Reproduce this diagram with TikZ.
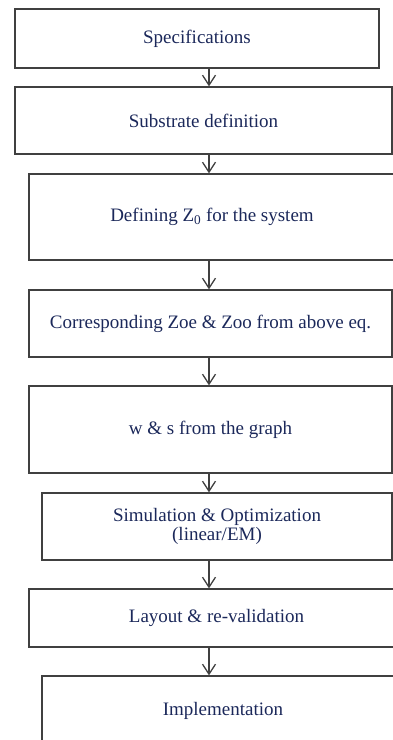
\documentclass[tikz,border=0pt]{standalone}
\usepackage{fontspec}
\setmainfont{Liberation Serif}
\usepackage{tikz}
\usetikzlibrary{arrows.meta}
\usetikzlibrary{calc,positioning}

\definecolor{encre}{RGB}{27,40,90}
\definecolor{trait}{RGB}{64,64,64}

\tikzset{
  etape/.style={draw=trait, line width=1.3pt, text=encre, align=center,
    inner sep=0pt, font=\fontsize{19}{19}\selectfont},
  fleche/.style={draw=trait, line width=1.3pt,
    -{Straight Barb[length=10pt,width=13pt,line width=1.3pt]}}
}

\begin{document}
\begin{tikzpicture}[x=1pt,y=1pt]
          % Cadre
          \clip (0,0) rectangle (393,-740);

          % Boites
          \node[etape, minimum width=364, minimum height=59] (spec) at (197,-38.5) {Specifications};
          \node[etape, minimum width=377, minimum height=67] (subs) at (203.5,-120.5) {Substrate definition};
          \node[etape, minimum width=366, minimum height=86] (zzero) at (212,-217) {Defining Z\textsubscript{0} for the system};
          \node[etape, minimum width=363, minimum height=67] (zoe) at (210.5,-323.5) {Corresponding Zoe \& Zoo from above eq.};
          \node[etape, minimum width=363, minimum height=87] (ws) at (210.5,-429.5) {w \& s from the graph};
          \node[etape, minimum width=350, minimum height=67] (simu) at (217,-526.5) {Simulation \& Optimization\\(linear/EM)};
          \node[etape, minimum width=375, minimum height=58] (lay) at (216.5,-618) {Layout \& re-validation};
          \node[etape, minimum width=362, minimum height=70] (impl) at (223,-711) {Implementation};

          % Axe des fleches
          \coordinate (axe) at (209,0);

          % Fleches
          \foreach \a/\b in {spec/subs, subs/zzero, zzero/zoe, zoe/ws, ws/simu, simu/lay, lay/impl} {
            \draw[fleche] (\a.south -| axe) -- (\b.north -| axe);
          }

        \end{tikzpicture}
\end{document}
